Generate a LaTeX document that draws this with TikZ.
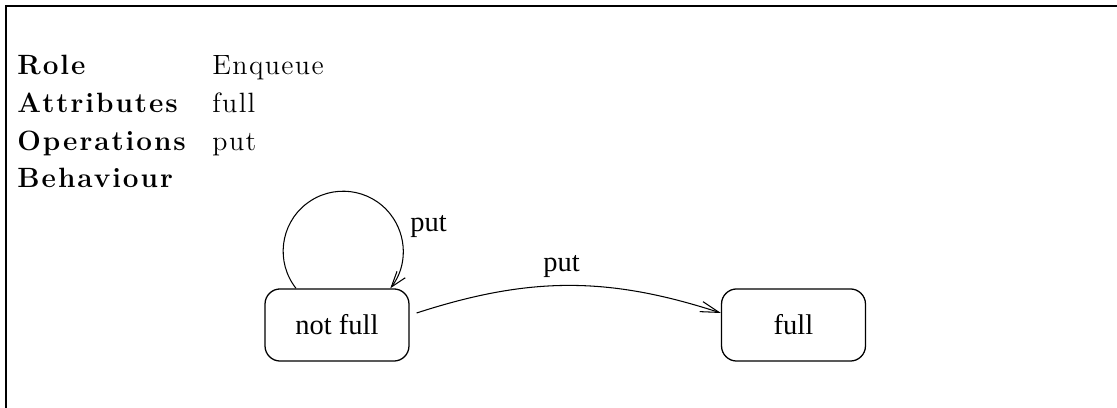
\documentclass[tikz,border=0pt]{standalone}
\usepackage{fontspec}
\usetikzlibrary{arrows.meta}
\newfontfamily\tms{Liberation Serif}
\newfontfamily\lmsp{Latin Modern Roman}[LetterSpace=5]
\newfontfamily\lmspb{Latin Modern Roman}[LetterSpace=7]
\begin{document}
\begin{tikzpicture}[x=0.43pt,y=-0.43pt,
  state/.style={draw, line width=0.55pt, rounded corners=6.5pt, minimum width=61.9pt, minimum height=31pt, inner sep=0pt, font=\tms\fontsize{12.25}{14}\selectfont},
  lbl/.style={anchor=base west, inner sep=0pt, font=\tms\fontsize{12.25}{14}\selectfont},
  key/.style={anchor=base west, inner sep=0pt, font=\lmspb\fontsize{12}{14}\selectfont\bfseries},
  val/.style={anchor=base west, inner sep=0pt, font=\lmsp\fontsize{12}{14}\selectfont},
  edge/.style={line width=0.45pt}]
\useasboundingbox (0,0) rectangle (1117,408);
\draw[line width=0.9pt] (1117,6) -- (6,6) -- (6,408);
\node[key] (k1) at (17,75) {Role};
\node[val] (v1) at (212,75) {Enqueue};
\node[key] (k2) at (17,112.7) {Attributes};
\node[val] (v2) at (212,112.7) {full};
\node[key] (k3) at (17,150.3) {Operations};
\node[val] (v3) at (212,150.3) {put};
\node[key] (k4) at (17,188) {Behaviour};
\node[state] (nf) at (337,325) {not full};
\node[state] (fu) at (793.5,325) {full};
\draw[edge,-{Straight Barb[length=6.8pt,width=4.5pt]}] ([shift={(-41,0)}]nf.north) arc[start angle=218.2, end angle=-38.2, radius=25.8pt];
\node[lbl] (l1) at (410,232) {put};
\draw[edge,-{Straight Barb[length=8pt,width=4.5pt]}] ([shift={(7,-12)}]nf.east) to[bend left=18] ([shift={(0,-12)}]fu.west);
\node[lbl] (l2) at (543,272) {put};
\end{tikzpicture}
\end{document}
